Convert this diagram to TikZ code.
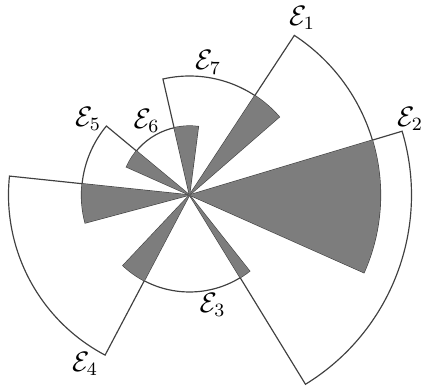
\documentclass[tikz,border=0pt]{standalone}
\usepackage{amsmath}
\usepackage{amssymb}
\usetikzlibrary{positioning,calc}
\definecolor{ink}  {HTML}{1E1E1E}
\definecolor{shade}{HTML}{7D7D7D}
\tikzset{
  % --- sectors
  sector/.style  = {draw=ink!85, line width=0.5pt},
  overlap/.style = {fill=shade},
  lbl/.style     = {font=\large, inner sep=1pt},
}
\begin{document}
\begin{tikzpicture}[scale=0.015]
  % frame of the picture (1 unit = 1 px of the reference)
  \useasboundingbox (-189.5,-191) rectangle (234.5,195);
  \coordinate (O) at (0,0);

  % the seven sectors: start angle / end angle / radius
  \foreach \a/\b/\r in {-24/56.7/191, -58.5/16.7/222, -133.3/-51.7/97,
                        174/242.2/181, 140.3/195/108, 82.6/156/69,
                        41/102.9/119}
    \draw[sector] (O) -- (\a:\r) arc[start angle=\a, end angle=\b, radius=\r] -- cycle;

  % overlaps of neighbouring sectors
  \foreach \a/\b/\r in {-24/16.7/191, -58.5/-51.7/97, -133.3/-117.8/97,
                        174/195/108, 140.3/156/69, 82.6/102.9/69,
                        41/56.7/119}
    \fill[overlap] (O) -- (\a:\r) arc[start angle=\a, end angle=\b, radius=\r] -- cycle;

  % labels
  \node[lbl] (e1) at (112.5,177)  {$\mathcal{E}_1$};
  \node[lbl] (e2) at (220.5,76)   {$\mathcal{E}_2$};
  \node[lbl] (e3) at (23,-110)    {$\mathcal{E}_3$};
  \node[lbl] (e4) at (-104.5,-169){$\mathcal{E}_4$};
  \node[lbl] (e5) at (-101.5,76)  {$\mathcal{E}_5$};
  \node[lbl] (e6) at (-43,74)     {$\mathcal{E}_6$};
  \node[lbl] (e7) at (18.5,132.5) {$\mathcal{E}_7$};
\end{tikzpicture}
\end{document}
